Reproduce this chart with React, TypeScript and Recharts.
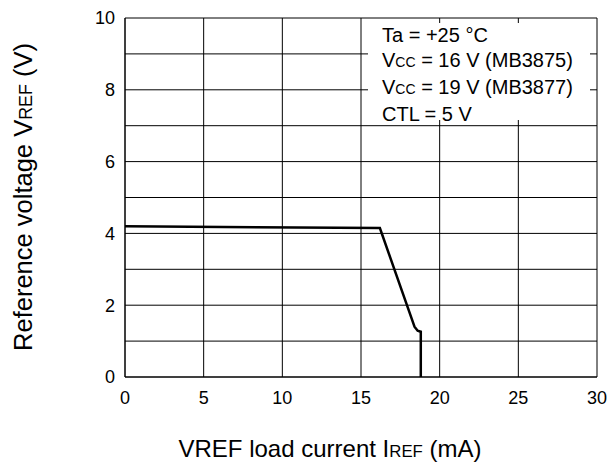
import { CartesianGrid, Line, LineChart, XAxis, YAxis } from 'recharts';

const loadCurrent = [0, 16.2, 18.4, 18.6, 18.8, 18.8];
const refVoltage = [4.2, 4.15, 1.4, 1.29, 1.26, 0];
const xTicks = [0, 5, 10, 15, 20, 25, 30];
const yTicks = [0, 1, 2, 3, 4, 5, 6, 7, 8, 9, 10];

const data = loadCurrent.map((x, i) => ({ x, v: refVoltage[i] }));

const FONT = '"Liberation Sans", Arial, sans-serif';
const small = { fontSize: '0.7em' };

export default function App() {
  return (
    <div style={{ position: 'absolute', left: 0, top: 0, width: 610, height: 467, background: '#fff', fontFamily: FONT }}>
      <LineChart width={610} height={467} data={data} margin={{ top: 18, right: 13, bottom: 0, left: 0 }}>
        <CartesianGrid stroke="#000" strokeWidth={1} horizontalValues={yTicks} verticalValues={xTicks} />
        <XAxis
          dataKey="x"
          type="number"
          domain={[0, 30]}
          ticks={xTicks}
          height={90}
          tickLine={false}
          tickSize={0}
          tickMargin={14}
          stroke="#000"
          tick={{ fill: '#000', fontSize: 18, fontFamily: FONT }}
        />
        <YAxis
          type="number"
          domain={[0, 10]}
          ticks={yTicks}
          width={125}
          interval={0}
          tickLine={false}
          tickSize={0}
          tickMargin={10}
          stroke="#000"
          tickFormatter={(v: number) => (v % 2 === 0 ? String(v) : '')}
          tick={{ fill: '#000', fontSize: 18, fontFamily: FONT }}
        />
        <Line dataKey="v" type="linear" stroke="#000" strokeWidth={2.5} dot={false} isAnimationActive={false} />
      </LineChart>

      <div
        style={{
          position: 'absolute',
          left: 368,
          top: 23,
          width: 222,
          height: 97,
          background: '#fff',
          fontSize: 20,
          lineHeight: '25px',
          paddingLeft: 14,
          boxSizing: 'border-box',
          whiteSpace: 'nowrap',
        }}
      >
        <div>Ta = +25 °C</div>
        <div>
          V<span style={small}>CC</span> = 16 V (MB3875)
        </div>
        <div>
          V<span style={small}>CC</span> = 19 V (MB3877)
        </div>
        <div>CTL = 5 V</div>
      </div>

      <div
        style={{
          position: 'absolute',
          left: 23,
          top: 197,
          transform: 'translate(-50%, -50%) rotate(-90deg)',
          fontSize: 25.5,
          whiteSpace: 'nowrap',
        }}
      >
        Reference voltage V<span style={small}>REF</span> (V)
      </div>

      <div
        style={{
          position: 'absolute',
          left: 330,
          top: 449,
          transform: 'translate(-50%, -50%)',
          fontSize: 24,
          whiteSpace: 'nowrap',
        }}
      >
        VREF load current I<span style={small}>REF</span> (mA)
      </div>
    </div>
  );
}
